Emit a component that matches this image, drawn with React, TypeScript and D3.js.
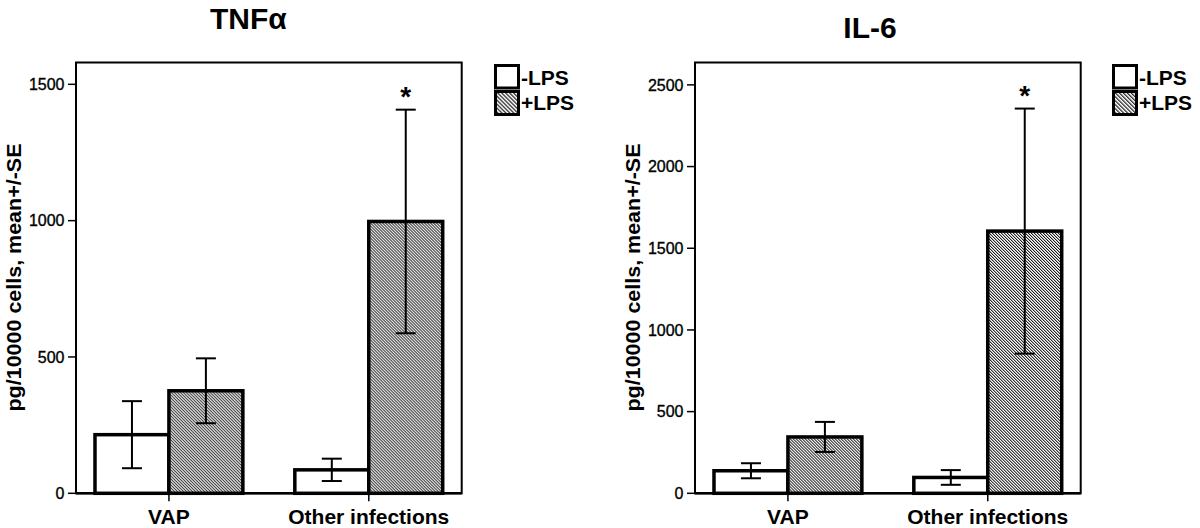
import React from 'react';
import * as d3 from 'd3';

const categories = ['VAP', 'Other infections'];
const groups = ['-LPS', '+LPS'];

const tnfMinusLps = [215, 86];
const tnfPlusLps = [376, 997];
const tnfMinusSE = [123, 41];
const tnfPlusSE = [119, 410];
const tnfTicks = [0, 500, 1000, 1500];
const tnfMax = 1580;

const il6MinusLps = [138, 97];
const il6PlusLps = [345, 1605];
const il6MinusSE = [46, 45];
const il6PlusSE = [92, 750];
const il6Ticks = [0, 500, 1000, 1500, 2000, 2500];
const il6Max = 2637;

// the starred bar in each panel: [category, group]
const starred = ['Other infections', '+LPS'];

const FONT = '"Liberation Sans", Arial, Helvetica, sans-serif';
const W = 385.7;
const TOP = 62.5;
const BOTTOM = 493.3;

const Legend = ({ x }) => (
  <g>
    {groups.map((g, i) => (
      <g key={g}>
        <rect
          x={x + 1.5}
          y={i === 0 ? 65.5 : 91.5}
          width={23}
          height={i === 0 ? 22.5 : 23}
          fill={i === 0 ? '#fff' : 'url(#hatchLegend)'}
          stroke="#000"
          strokeWidth={3}
        />
        <text
          x={x + 27}
          y={i === 0 ? 85 : 110}
          fontFamily={FONT}
          fontWeight="bold"
          fontSize={21}
        >
          {g}
        </text>
      </g>
    ))}
  </g>
);

const Panel = ({ left, title, titleX, titleY, yMax, yTicks, minus, plus, minusSE, plusSE }) => {
  const y = d3.scaleLinear().domain([0, yMax]).range([BOTTOM, TOP]);
  const xCat = d3
    .scaleBand()
    .domain(categories)
    .range([left, left + W])
    .paddingInner(0.26)
    .paddingOuter(0.095);
  const xGrp = d3.scaleBand().domain(groups).range([0, xCat.bandwidth()]);

  const rows = categories.flatMap((c, i) => [
    { c, g: groups[0], v: minus[i], se: minusSE[i] },
    { c, g: groups[1], v: plus[i], se: plusSE[i] },
  ]);

  return (
    <g>
      <text
        x={titleX}
        y={titleY}
        textAnchor="middle"
        fontFamily={FONT}
        fontWeight="bold"
        fontSize={30}
      >
        {title}
      </text>

      {/* bars */}
      {rows.map(d => (
        <rect
          key={d.c + d.g}
          x={xCat(d.c) + xGrp(d.g)}
          y={y(d.v)}
          width={xGrp.bandwidth()}
          height={BOTTOM - y(d.v)}
          fill={d.g === '+LPS' ? 'url(#hatch)' : '#fff'}
          stroke="#000"
          strokeWidth={3.5}
        />
      ))}

      {/* error bars */}
      {rows.map(d => {
        const cx = xCat(d.c) + xGrp(d.g) + xGrp.bandwidth() / 2;
        const y1 = y(d.v + d.se);
        const y0 = y(d.v - d.se);
        return (
          <g key={'e' + d.c + d.g} stroke="#000" strokeWidth={2}>
            <line x1={cx} x2={cx} y1={y1} y2={y0} />
            <line x1={cx - 10} x2={cx + 10} y1={y1} y2={y1} />
            <line x1={cx - 10} x2={cx + 10} y1={y0} y2={y0} />
            {d.c === starred[0] && d.g === starred[1] && (
              <text
                x={cx}
                y={y1 - 4}
                textAnchor="middle"
                fontFamily={FONT}
                fontWeight="bold"
                fontSize={28}
                stroke="none"
              >
                *
              </text>
            )}
          </g>
        );
      })}

      {/* frame */}
      <rect x={left} y={TOP} width={W} height={BOTTOM - TOP} fill="none" stroke="#000" strokeWidth={2} />
      <line x1={left} x2={left + W} y1={BOTTOM} y2={BOTTOM} stroke="#000" strokeWidth={2.5} />

      {/* y axis */}
      {yTicks.map(t => (
        <g key={t}>
          <line x1={left - 8} x2={left} y1={y(t)} y2={y(t)} stroke="#000" strokeWidth={1.5} />
          <text
            x={left - 11.5}
            y={y(t)}
            dy="0.36em"
            textAnchor="end"
            fontFamily={FONT}
            fontSize={16}
            stroke="#000"
            strokeWidth={0.35}
          >
            {t}
          </text>
        </g>
      ))}
      <text
        transform={`translate(${left - 55},277.5) rotate(-90)`}
        textAnchor="middle"
        fontFamily={FONT}
        fontWeight="bold"
        fontSize={20}
        textLength={268}
        lengthAdjust="spacingAndGlyphs"
      >
        pg/10000 cells, mean+/-SE
      </text>

      {/* x axis */}
      {categories.map(c => {
        const cx = xCat(c) + xCat.bandwidth() / 2;
        return (
          <g key={c}>
            <line x1={cx} x2={cx} y1={BOTTOM} y2={BOTTOM + 8} stroke="#000" strokeWidth={1.5} />
            <text x={cx} y={524} textAnchor="middle" fontFamily={FONT} fontWeight="bold" fontSize={21}>
              {c}
            </text>
          </g>
        );
      })}
    </g>
  );
};

export default function App() {
  return (
    <svg
      width={1200}
      height={528}
      style={{ position: 'absolute', left: 0, top: 0, background: '#fff' }}
    >
      <defs>
        <pattern
          id="hatch"
          patternUnits="userSpaceOnUse"
          width={2.12}
          height={10}
          patternTransform="rotate(-45)"
        >
          <rect width={2.12} height={10} fill="#fff" />
          <rect width={0.95} height={10} fill="#1a1a1a" />
        </pattern>
        <pattern
          id="hatchLegend"
          patternUnits="userSpaceOnUse"
          width={2.8}
          height={10}
          patternTransform="rotate(-45)"
        >
          <rect width={2.8} height={10} fill="#fff" />
          <rect width={1.2} height={10} fill="#1a1a1a" />
        </pattern>
      </defs>
      <rect width={1200} height={528} fill="#fff" />
      <Panel
        left={76}
        title="TNFα"
        titleX={248.3}
        titleY={28.6}
        yMax={tnfMax}
        yTicks={tnfTicks}
        minus={tnfMinusLps}
        plus={tnfPlusLps}
        minusSE={tnfMinusSE}
        plusSE={tnfPlusSE}
      />
      <Legend x={494} />
      <Panel
        left={695}
        title="IL-6"
        titleX={870}
        titleY={38.3}
        yMax={il6Max}
        yTicks={il6Ticks}
        minus={il6MinusLps}
        plus={il6PlusLps}
        minusSE={il6MinusSE}
        plusSE={il6PlusSE}
      />
      <Legend x={1112} />
    </svg>
  );
}
